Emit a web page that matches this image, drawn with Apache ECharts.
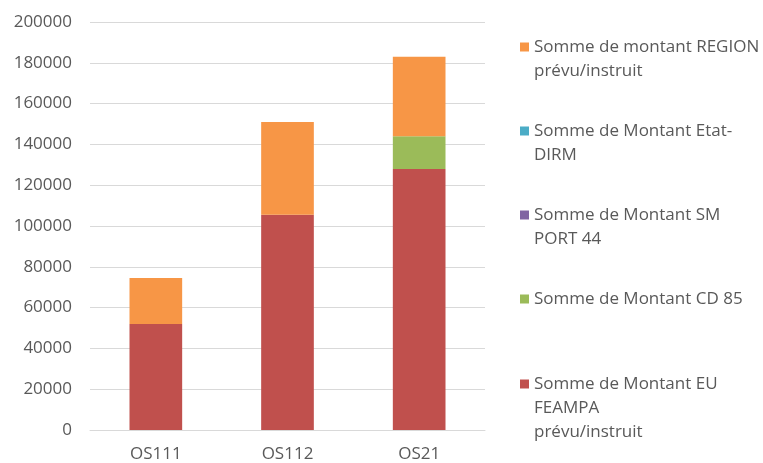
<!DOCTYPE html>
<html><head><meta charset="utf-8">
<script src="https://cdn.jsdelivr.net/npm/echarts@6/dist/echarts.min.js"></script>
<style>html,body{margin:0;padding:0;background:#fff}#c{width:763px;height:463px}</style>
</head><body><div id="c"></div>
<script>
const categories = ['OS111', 'OS112', 'OS21'];
const euFeampa = [52000, 105500, 128000];
const cd85 = [0, 0, 16000];
const smPort44 = [0, 0, 0];
const etatDirm = [0, 0, 0];
const region = [22500, 45500, 39000];
const yTicks = [0, 20000, 40000, 60000, 80000, 100000, 120000, 140000, 160000, 180000, 200000];

const names = [
  'Somme de Montant EU FEAMPA prévu/instruit',
  'Somme de Montant CD 85',
  'Somme de Montant SM PORT 44',
  'Somme de Montant Etat-DIRM',
  'Somme de montant REGION prévu/instruit'
];
const labelLines = {
  'Somme de montant REGION prévu/instruit': ['Somme de montant REGION', 'prévu/instruit'],
  'Somme de Montant Etat-DIRM': ['Somme de Montant Etat-', 'DIRM'],
  'Somme de Montant SM PORT 44': ['Somme de Montant SM', 'PORT 44'],
  'Somme de Montant CD 85': ['Somme de Montant CD 85'],
  'Somme de Montant EU FEAMPA prévu/instruit': ['Somme de Montant EU', 'FEAMPA', 'prévu/instruit']
};
const colors = ['#C0504D', '#9BBB59', '#8064A2', '#4BACC6', '#F79646'];
const values = [euFeampa, cd85, smPort44, etatDirm, region];
const FONT = 'Open Sans';
const FS = 17;
const LH = 24;
const legendOrder = [4, 3, 2, 1, 0];
const iconY = [47, 131, 215, 299, 384];

const legends = legendOrder.map((si, k) => {
  const nm = names[si];
  const L = labelLines[nm].length;
  const total = 2 * L - 1;
  return {
    data: [nm],
    left: 520,
    top: iconY[k] - LH * total / 2,
    orient: 'vertical',
    padding: 0,
    itemWidth: 9,
    itemHeight: 9,
    icon: 'rect',
    selectedMode: false,
    formatter: () => {
      const lines = labelLines[nm];
      return new Array(lines.length - 1).fill('').concat(lines).join('\n');
    },
    textStyle: { fontFamily: FONT, fontSize: FS, color: '#595959', lineHeight: LH }
  };
});

const chart = echarts.init(document.getElementById('c'));
chart.setOption({
  animation: false,
  color: colors,
  grid: { left: 90, right: 278, top: 22, bottom: 32, containLabel: false },
  legend: legends,
  xAxis: {
    type: 'category',
    data: categories,
    axisTick: { show: false },
    axisLine: { lineStyle: { color: '#d9d9d9', width: 1 } },
    axisLabel: { fontFamily: FONT, fontSize: FS, color: '#595959', margin: 16 }
  },
  yAxis: {
    type: 'value',
    min: yTicks[0],
    max: yTicks[yTicks.length - 1],
    interval: yTicks[1] - yTicks[0],
    axisLine: { show: false },
    axisTick: { show: false },
    splitLine: { lineStyle: { color: '#d9d9d9', width: 1 } },
    axisLabel: { fontFamily: FONT, fontSize: FS, color: '#595959', margin: 18, formatter: v => String(v) }
  },
  series: values.map((v, i) => ({
    name: names[i],
    type: 'bar',
    stack: 'total',
    data: v,
    barWidth: '40%',
    itemStyle: { color: colors[i] }
  }))
});
</script></body></html>
